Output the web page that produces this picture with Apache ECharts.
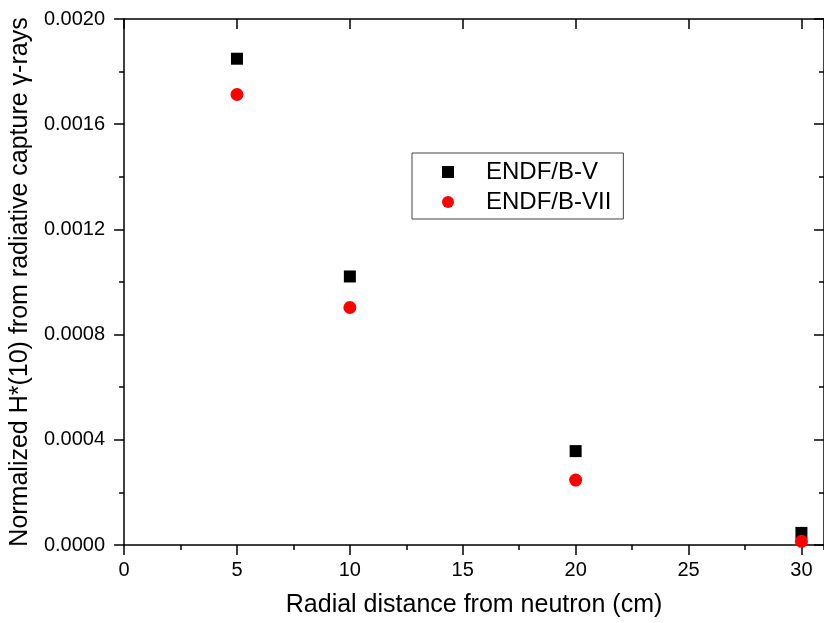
<!DOCTYPE html>
<html>
<head>
<meta charset="utf-8">
<script src="https://cdn.jsdelivr.net/npm/echarts@6/dist/echarts.min.js"></script>
<style>
html,body{margin:0;padding:0;background:#fff;}
#chart{width:824px;height:623px;}
</style>
</head>
<body>
<div id="chart"></div>
<script>
// Data
const distances = [5, 10, 20, 30];
const endfV   = [0.001849, 0.001021, 0.000357, 0.000046];
const endfVII = [0.001713, 0.000903, 0.000247, 0.000014];
const seriesNames = ['ENDF/B-V', 'ENDF/B-VII'];
const xTitle = 'Radial distance from neutron (cm)';
const yTitle = 'Normalized H*(10) from radiative capture \u03b3-rays';

const FONT = "'Liberation Sans', Arial, sans-serif";
const lineStyle = {color: '#000', width: 1.5};

const X_MIN = 0, X_MAX = 31;
const Y_MIN = 0, Y_MAX = 0.002;

function xAx(opts) {
  return Object.assign({
    type: 'value', min: X_MIN, max: X_MAX, interval: 5,
    splitLine: {show: false},
    axisLine: {show: true, onZero: false, lineStyle: lineStyle},
    axisLabel: {show: false},
    minorTick: {show: false}
  }, opts);
}
function yAx(opts) {
  return Object.assign({
    type: 'value', min: Y_MIN, max: Y_MAX, interval: 0.0004,
    splitLine: {show: false},
    axisLine: {show: true, onZero: false, lineStyle: lineStyle},
    axisLabel: {show: false}
  }, opts);
}

const chart = echarts.init(document.getElementById('chart'), null, {renderer: 'canvas'});
chart.setOption({
  animation: false,
  backgroundColor: '#fff',
  textStyle: {fontFamily: FONT},
  grid: {left: 122, right: -5, top: 19, bottom: 77, containLabel: false},
  xAxis: [
    xAx({
      position: 'bottom',
      name: xTitle, nameLocation: 'middle', nameGap: 48,
      nameTextStyle: {fontSize: 25, color: '#000', fontFamily: FONT},
      axisTick: {show: true, inside: false, length: 10, lineStyle: lineStyle},
      axisLabel: {show: true, fontSize: 20, color: '#000', margin: 15, fontFamily: FONT, showMaxLabel: false}
    }),
    xAx({
      position: 'bottom', interval: 2.5,
      axisLine: {show: false},
      axisTick: {show: true, inside: false, length: 5, lineStyle: lineStyle}
    }),
    xAx({
      position: 'top',
      axisTick: {show: true, inside: true, length: 10, lineStyle: lineStyle}
    }),
    xAx({
      position: 'top', interval: 2.5,
      axisLine: {show: false},
      axisTick: {show: true, inside: true, length: 5, lineStyle: lineStyle}
    })
  ],
  yAxis: [
    yAx({
      position: 'left',
      name: yTitle, nameLocation: 'middle', nameGap: 86, nameRotate: 90,
      nameTextStyle: {fontSize: 25, color: '#000', fontFamily: FONT},
      axisTick: {show: true, inside: false, length: 10, lineStyle: lineStyle},
      minorTick: {show: true, splitNumber: 2, length: 5, lineStyle: lineStyle},
      axisLabel: {show: true, fontSize: 20, color: '#000', margin: 19, fontFamily: FONT,
        formatter: v => Number(v).toFixed(4)}
    }),
    yAx({
      position: 'right',
      axisTick: {show: true, inside: true, length: 10, lineStyle: lineStyle},
      minorTick: {show: true, splitNumber: 2, length: 5, lineStyle: lineStyle}
    })
  ],
  legend: {
    orient: 'vertical',
    left: 412, top: 153,
    backgroundColor: '#fff',
    borderColor: '#444', borderWidth: 1, borderRadius: 0,
    padding: [7, 12, 5, 30],
    itemGap: 6,
    itemWidth: 12, itemHeight: 12,
    textStyle: {fontSize: 24, color: '#000', fontFamily: FONT, padding: [0, 0, 0, 27]},
    data: [
      {name: seriesNames[0], icon: 'rect', itemStyle: {opacity: 1}},
      {name: seriesNames[1], icon: 'circle', itemStyle: {opacity: 1}}
    ]
  },
  series: [
    {
      name: seriesNames[0], type: 'scatter', xAxisIndex: 0, yAxisIndex: 0,
      symbol: 'rect', symbolSize: 12,
      itemStyle: {color: '#000000', opacity: 1},
      data: distances.map((d, i) => [d, endfV[i]])
    },
    {
      name: seriesNames[1], type: 'scatter', xAxisIndex: 0, yAxisIndex: 0,
      symbol: 'circle', symbolSize: 13,
      itemStyle: {color: '#ff0000', opacity: 1},
      data: distances.map((d, i) => [d, endfVII[i]])
    }
  ]
});
</script>
</body>
</html>
